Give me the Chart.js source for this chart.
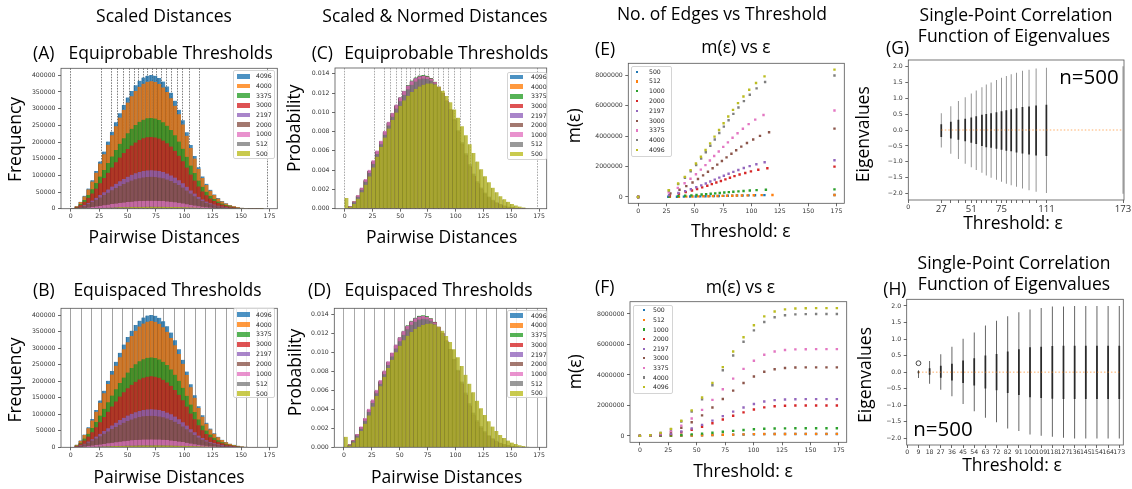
<!DOCTYPE html>
<html>
<head>
<meta charset="utf-8">
<title>Pairwise distances, edges and eigenvalues</title>
<script src="https://cdn.jsdelivr.net/npm/chart.js@4.4.1/dist/chart.umd.min.js"></script>
<style>
  html, body { margin: 0; padding: 0; background: #fff; }
  #page { position: relative; width: 1132px; height: 489px; overflow: hidden; }
  canvas { position: absolute; }
  svg { position: absolute; left: 0; top: 0; pointer-events: none; }
  .legend { position: absolute; box-sizing: border-box; border: 0.8px solid #d4d4d4; border-radius: 2px;
            background: rgba(255,255,255,0.8); font: 6.2px 'DejaVu Sans'; color: #262626; }
  .legend span { position: absolute; white-space: nowrap; line-height: 8px; }
</style>
</head>
<body>
<div id="page">
  <canvas id="chart-a"></canvas>
  <canvas id="chart-b"></canvas>
  <canvas id="chart-c"></canvas>
  <canvas id="chart-d"></canvas>
  <canvas id="chart-e"></canvas>
  <canvas id="chart-f"></canvas>
  <canvas id="chart-g"></canvas>
  <canvas id="chart-h"></canvas>
  <div class="legend" id="legend-a"></div>
  <div class="legend" id="legend-b"></div>
  <div class="legend" id="legend-c"></div>
  <div class="legend" id="legend-d"></div>
  <div class="legend" id="legend-e"></div>
  <div class="legend" id="legend-f"></div>

  <svg width="1132" height="489" font-family="Open Sans" fill="#000">
    <g font-size="17.5" text-anchor="middle">
      <text x="164" y="21.7">Scaled Distances</text>
      <text x="435" y="21.7">Scaled &amp; Normed Distances</text>
      <text x="722" y="20">No. of Edges vs Threshold</text>
      <text x="1016" y="20.7">Single-Point Correlation</text>
      <text x="1014" y="42">Function of Eigenvalues</text>

      <text x="170.7" y="59.3">Equiprobable Thresholds</text>
      <text x="446.3" y="59.3">Equiprobable Thresholds</text>
      <text x="736" y="53.3">m(ε) vs ε</text>
      <text x="167.5" y="296">Equispaced Thresholds</text>
      <text x="438.5" y="296">Equispaced Thresholds</text>
      <text x="740.5" y="292.7">m(ε) vs ε</text>
      <text x="1014" y="269.3">Single-Point Correlation</text>
      <text x="1014" y="290">Function of Eigenvalues</text>

      <text x="164.2" y="243.3">Pairwise Distances</text>
      <text x="169" y="483.3">Pairwise Distances</text>
      <text x="441.7" y="243">Pairwise Distances</text>
      <text x="446.7" y="482.7">Pairwise Distances</text>
      <text x="740.8" y="237.3">Threshold: ε</text>
      <text x="743" y="477.3">Threshold: ε</text>
      <text x="1013" y="229.3">Threshold: ε</text>
      <text x="1012" y="470.7">Threshold: ε</text>

      <text transform="translate(21 139.5) rotate(-90)">Frequency</text>
      <text transform="translate(21 380) rotate(-90)">Frequency</text>
      <text transform="translate(300 128.3) rotate(-90)">Probability</text>
      <text transform="translate(301 372.5) rotate(-90)">Probability</text>
      <text transform="translate(580 125.8) rotate(-90)">m(ε)</text>
      <text transform="translate(580.5 371.7) rotate(-90)">m(ε)</text>
      <text transform="translate(869.4 134.2) rotate(-90)">Eigenvalues</text>
      <text transform="translate(871 375) rotate(-90)">Eigenvalues</text>
    </g>
    <g font-size="17.5">
      <text x="33" y="59.3">(A)</text>
      <text x="311.7" y="59.3">(C)</text>
      <text x="595" y="55">(E)</text>
      <text x="886" y="54.3">(G)</text>
      <text x="33" y="296">(B)</text>
      <text x="308" y="296">(D)</text>
      <text x="595" y="293.3">(F)</text>
      <text x="883.3" y="295">(H)</text>
    </g>
    <g font-size="20.5">
      <text x="1059.3" y="84.3">n=500</text>
      <text x="913.3" y="436">n=500</text>
    </g>
  </svg>
</div>

<script>
// ---- data -------------------------------------------------------------

// histogram bins (centres), shared by panels A-D
const BIN_CENTERS = [1.73, 5.2, 8.66, 12.12, 15.59, 19.05, 22.52, 25.98, 29.44, 32.91,
    36.37, 39.84, 43.3, 46.76, 50.23, 53.69, 57.16, 60.62, 64.08, 67.55,
    71.01, 74.48, 77.94, 81.4, 84.87, 88.33, 91.8, 95.26, 98.72, 102.19,
    105.65, 109.12, 112.58, 116.04, 119.51, 122.97, 126.44, 129.9, 133.36, 136.83,
    140.29, 143.76, 147.22, 150.68, 154.15, 157.61, 161.08, 164.54, 168.0, 171.47];

const HIST_SIZES = ['4096', '4000', '3375', '3000', '2197', '2000', '1000', '512', '500'];
const EDGE_SIZES = ['500', '512', '1000', '2000', '2197', '3000', '3375', '4000', '4096'];
const TAB10 = ['#1f77b4', '#ff7f0e', '#2ca02c', '#d62728', '#9467bd', '#8c564b', '#e377c2', '#7f7f7f', '#bcbd22'];

// frequencies of pairwise distances per bin
const FREQ_4096 = [900, 7900, 20800, 38700, 60600, 85500, 113200, 141900, 171500, 201400, 231000, 259200, 286400, 311000, 333700, 353300, 370200, 383500, 393100, 399000, 400900, 398400, 392000, 381500, 366600, 347500, 324000, 296600, 265100, 229600, 190900, 157700, 124500, 96800, 74700, 56700, 42900, 31800, 23000, 16000, 11100, 7500, 4700, 2800, 1700, 800, 400, 200, 100, 0];
const FREQ_4000 = [900, 7500, 19800, 36900, 57800, 81500, 108000, 135300, 163600, 192100, 220300, 247200, 273100, 296600, 318200, 336900, 353100, 365700, 374900, 380500, 382300, 380000, 373900, 363800, 349600, 331400, 309000, 282900, 252800, 219000, 182100, 150400, 118700, 92300, 71200, 54100, 40900, 30300, 21900, 15300, 10600, 7200, 4500, 2700, 1600, 800, 400, 200, 100, 0];
const FREQ_3375 = [600, 5400, 14100, 26300, 41100, 58100, 76900, 96300, 116400, 136700, 156800, 176000, 194400, 211100, 226600, 239900, 251300, 260400, 266900, 270900, 272200, 270500, 266100, 259000, 248900, 235900, 220000, 201400, 180000, 155900, 129600, 107100, 84500, 65700, 50700, 38500, 29100, 21600, 15600, 10900, 7500, 5100, 3200, 1900, 1200, 500, 300, 100, 100, 0];
const FREQ_3000 = [500, 4200, 11200, 20800, 32500, 45900, 60700, 76100, 92000, 108000, 123900, 139000, 153600, 166800, 179000, 189500, 198600, 205700, 210900, 214000, 215000, 213700, 210300, 204600, 196600, 186400, 173800, 159100, 142200, 123200, 102400, 84600, 66800, 51900, 40100, 30400, 23000, 17100, 12300, 8600, 6000, 4000, 2500, 1500, 900, 400, 200, 100, 100, 0];
const FREQ_2197 = [300, 2300, 6000, 11100, 17400, 24600, 32600, 40800, 49300, 57900, 66400, 74600, 82400, 89400, 96000, 101600, 106500, 110300, 113100, 114800, 115300, 114600, 112700, 109700, 105400, 99900, 93200, 85300, 76200, 66000, 54900, 45400, 35800, 27800, 21500, 16300, 12300, 9200, 6600, 4600, 3200, 2200, 1400, 800, 500, 200, 100, 100, 0, 0];
const FREQ_2000 = [200, 1900, 5000, 9200, 14500, 20400, 27000, 33800, 40900, 48000, 55100, 61800, 68300, 74100, 79600, 84200, 88300, 91400, 93700, 95100, 95600, 95000, 93500, 91000, 87400, 82800, 77200, 70700, 63200, 54700, 45500, 37600, 29700, 23100, 17800, 13500, 10200, 7600, 5500, 3800, 2700, 1800, 1100, 700, 400, 200, 100, 0, 0, 0];
const FREQ_1000 = [50, 470, 1240, 2300, 3610, 5090, 6740, 8450, 10210, 12000, 13760, 15440, 17060, 18520, 19880, 21040, 22050, 22840, 23410, 23760, 23880, 23730, 23350, 22720, 21830, 20700, 19300, 17670, 15790, 13680, 11370, 9390, 7420, 5770, 4450, 3380, 2560, 1890, 1370, 950, 660, 450, 280, 170, 100, 50, 20, 10, 0, 0];
const FREQ_512 = [10, 120, 320, 600, 950, 1330, 1770, 2210, 2680, 3140, 3600, 4040, 4470, 4850, 5210, 5510, 5780, 5980, 6130, 6220, 6250, 6210, 6120, 5950, 5720, 5420, 5050, 4630, 4140, 3580, 2980, 2460, 1940, 1510, 1170, 880, 670, 500, 360, 250, 170, 120, 70, 40, 30, 10, 0, 0, 0, 0];
const FREQ_500 = [475, 73, 216, 441, 735, 1072, 1448, 1850, 2334, 2766, 3189, 3595, 3976, 4313, 4607, 4857, 5065, 5229, 5367, 5475, 5553, 5609, 5618, 5574, 5466, 5294, 5056, 4775, 4451, 4084, 3695, 3293, 2887, 2493, 2117, 1772, 1461, 1184, 942, 735, 562, 419, 307, 216, 147, 95, 56, 30, 13, 0];

// normalised histograms (probability density per bin)
const DENS_4096 = [0.00003, 0.00027, 0.00072, 0.00133, 0.00209, 0.00294, 0.00390, 0.00489, 0.00590, 0.00693, 0.00795, 0.00892, 0.00986, 0.01071, 0.01149, 0.01216, 0.01274, 0.01320, 0.01353, 0.01373, 0.01380, 0.01371, 0.01350, 0.01313, 0.01262, 0.01196, 0.01115, 0.01021, 0.00912, 0.00790, 0.00657, 0.00543, 0.00429, 0.00333, 0.00257, 0.00195, 0.00148, 0.00110, 0.00079, 0.00055, 0.00038, 0.00026, 0.00016, 0.00010, 0.00006, 0.00003, 0.00001, 0, 0, 0];
const DENS_4000 = [0.00003, 0.00027, 0.00071, 0.00133, 0.00210, 0.00295, 0.00390, 0.00488, 0.00591, 0.00693, 0.00794, 0.00893, 0.00985, 0.01072, 0.01148, 0.01217, 0.01273, 0.01321, 0.01352, 0.01374, 0.01379, 0.01372, 0.01349, 0.01314, 0.01261, 0.01197, 0.01114, 0.01022, 0.00911, 0.00791, 0.00656, 0.00544, 0.00428, 0.00334, 0.00256, 0.00196, 0.00147, 0.00111, 0.00078, 0.00056, 0.00037, 0.00026, 0.00016, 0.00010, 0.00006, 0.00003, 0.00001, 0, 0, 0];
const DENS_3375 = [0.00003, 0.00027, 0.00072, 0.00134, 0.00210, 0.00296, 0.00392, 0.00492, 0.00594, 0.00697, 0.00799, 0.00897, 0.00991, 0.01077, 0.01156, 0.01224, 0.01283, 0.01329, 0.01362, 0.01382, 0.01388, 0.01379, 0.01356, 0.01318, 0.01265, 0.01198, 0.01116, 0.01021, 0.00911, 0.00789, 0.00656, 0.00542, 0.00428, 0.00333, 0.00256, 0.00195, 0.00147, 0.00110, 0.00079, 0.00055, 0.00038, 0.00026, 0.00016, 0.00010, 0.00006, 0.00003, 0.00001, 0, 0, 0];
const DENS_3000 = [0.00004, 0.00029, 0.00074, 0.00135, 0.00210, 0.00294, 0.00388, 0.00486, 0.00586, 0.00688, 0.00789, 0.00886, 0.00979, 0.01064, 0.01142, 0.01209, 0.01267, 0.01313, 0.01347, 0.01367, 0.01375, 0.01368, 0.01349, 0.01314, 0.01265, 0.01201, 0.01122, 0.01029, 0.00922, 0.00801, 0.00668, 0.00553, 0.00438, 0.00341, 0.00264, 0.00201, 0.00153, 0.00114, 0.00082, 0.00058, 0.00040, 0.00027, 0.00017, 0.00011, 0.00006, 0.00003, 0.00001, 0, 0, 0];
const DENS_2197 = [0.00003, 0.00027, 0.00072, 0.00133, 0.00209, 0.00295, 0.00391, 0.00490, 0.00591, 0.00694, 0.00796, 0.00893, 0.00987, 0.01072, 0.01150, 0.01217, 0.01275, 0.01320, 0.01354, 0.01373, 0.01379, 0.01370, 0.01349, 0.01312, 0.01261, 0.01195, 0.01115, 0.01021, 0.00913, 0.00790, 0.00657, 0.00543, 0.00429, 0.00333, 0.00257, 0.00195, 0.00148, 0.00110, 0.00079, 0.00055, 0.00038, 0.00026, 0.00016, 0.00010, 0.00006, 0.00003, 0.00001, 0, 0, 0];
const DENS_2000 = [0.00004, 0.00029, 0.00075, 0.00136, 0.00211, 0.00295, 0.00389, 0.00486, 0.00586, 0.00687, 0.00788, 0.00885, 0.00978, 0.01063, 0.01141, 0.01208, 0.01266, 0.01312, 0.01346, 0.01366, 0.01374, 0.01368, 0.01349, 0.01315, 0.01266, 0.01202, 0.01123, 0.01030, 0.00923, 0.00802, 0.00669, 0.00554, 0.00439, 0.00342, 0.00265, 0.00202, 0.00153, 0.00115, 0.00083, 0.00058, 0.00040, 0.00027, 0.00017, 0.00011, 0.00006, 0.00003, 0.00001, 0, 0, 0];
const DENS_1000 = [0.00003, 0.00028, 0.00075, 0.00140, 0.00219, 0.00307, 0.00404, 0.00503, 0.00604, 0.00706, 0.00807, 0.00903, 0.00996, 0.01080, 0.01156, 0.01222, 0.01278, 0.01322, 0.01354, 0.01372, 0.01378, 0.01369, 0.01348, 0.01311, 0.01260, 0.01195, 0.01114, 0.01020, 0.00911, 0.00789, 0.00656, 0.00542, 0.00428, 0.00333, 0.00257, 0.00195, 0.00148, 0.00110, 0.00079, 0.00055, 0.00038, 0.00026, 0.00016, 0.00010, 0.00006, 0.00003, 0.00001, 0, 0, 0];
const DENS_512 = [0.00003, 0.00024, 0.00066, 0.00124, 0.00196, 0.00279, 0.00370, 0.00466, 0.00567, 0.00668, 0.00768, 0.00864, 0.00955, 0.01039, 0.01115, 0.01182, 0.01240, 0.01286, 0.01320, 0.01342, 0.01351, 0.01346, 0.01329, 0.01298, 0.01252, 0.01191, 0.01117, 0.01030, 0.00929, 0.00815, 0.00690, 0.00575, 0.00462, 0.00365, 0.00285, 0.00220, 0.00168, 0.00127, 0.00094, 0.00068, 0.00049, 0.00034, 0.00023, 0.00015, 0.00009, 0.00005, 0.00002, 0.00001, 0, 0];
const DENS_500 = [0.00110, 0.00017, 0.00050, 0.00102, 0.00170, 0.00248, 0.00335, 0.00428, 0.00540, 0.00640, 0.00738, 0.00832, 0.00920, 0.00998, 0.01066, 0.01124, 0.01172, 0.01210, 0.01242, 0.01267, 0.01285, 0.01298, 0.01300, 0.01290, 0.01265, 0.01225, 0.01170, 0.01105, 0.01030, 0.00945, 0.00855, 0.00762, 0.00668, 0.00577, 0.00490, 0.00410, 0.00338, 0.00274, 0.00218, 0.00170, 0.00130, 0.00097, 0.00071, 0.00050, 0.00034, 0.00022, 0.00013, 0.00007, 0.00003, 0];

// thresholds
const EQPROB_THRESHOLDS = [0, 27, 35.6, 41.5, 46.5, 51.3, 55.7, 59.7, 63.7, 67.5, 71.6, 75.7, 80, 84.1, 88.8, 93.6, 98.7, 104.5, 113.2, 173.2];
const EQSPACED_THRESHOLDS = [0, 9.12, 18.23, 27.35, 36.46, 45.58, 54.69, 63.81, 72.93, 82.04, 91.16, 100.27, 109.39, 118.51, 127.62, 136.74, 145.85, 154.97, 164.08, 173.2];
const EQPROB_500 = [0, 26.6, 34.3, 40.4, 45.9, 50.8, 54.8, 59.4, 62.9, 66.8, 71.1, 75.2, 79.1, 83.0, 87.3, 92.1, 97.4, 103.1, 111.4, 173.2];
const EQPROB_512 = [0, 28, 36, 42.5, 48, 53, 57.5, 62, 66, 70, 74.5, 78.5, 83, 87, 91.5, 96.5, 102, 109, 118.5, 173.2];
const EQPROB_1000 = [0, 27.5, 35.5, 41.5, 47, 51.5, 56, 60, 64, 68, 72, 76, 80, 84, 88.5, 93, 98.5, 104.5, 112.7, 173.2];
const EQPROB_2000 = [0, 28, 36, 42, 47.5, 52, 56.5, 61, 65, 69, 73, 77, 81, 85, 89.5, 94.5, 99.5, 106, 114, 173.2];
const EQPROB_2197 = [0, 27.3, 35.5, 41.5, 46.5, 51.3, 55.7, 59.7, 63.7, 67.6, 71.6, 75.6, 79.8, 84, 88.4, 93.2, 98.4, 104.3, 111.6, 173.2];
const EQPROB_3000 = [0, 28.5, 36.5, 42.5, 48, 52.8, 57.3, 61.6, 65.7, 69.8, 73.9, 78, 82.3, 86.5, 91, 96, 101.5, 107.5, 115.5, 173.2];
const EQPROB_3375 = [0, 27, 35, 41, 46.2, 51, 55.3, 59.4, 63.3, 67.1, 71.1, 75.1, 79.2, 83.3, 87.7, 92.4, 97.5, 103.3, 110.6, 173.2];
const EQPROB_4000 = [0, 27.2, 35.3, 41.3, 46.4, 51.2, 55.6, 59.7, 63.7, 67.6, 71.6, 75.6, 79.8, 84.0, 88.5, 93.3, 98.5, 104.5, 112, 173.2];
const EQPROB_4096 = [0, 27, 35.3, 41.2, 46.3, 51, 55.4, 59.5, 63.5, 67.4, 71.4, 75.4, 79.5, 83.7, 88.1, 92.9, 98, 104, 111.5, 173.2];

// number of edges m(eps) at equiprobable thresholds
const EDGES_EQ_500 = [0, 6600, 13100, 19700, 26300, 32800, 39400, 46000, 52500, 59100, 65700, 72200, 78800, 85400, 91900, 98500, 105100, 111600, 118200, 124750];
const EDGES_EQ_512 = [0, 6900, 13800, 20700, 27500, 34400, 41300, 48200, 55100, 62000, 68900, 75700, 82600, 89500, 96400, 103300, 110200, 117000, 123900, 130816];
const EDGES_EQ_1000 = [0, 26300, 52600, 78900, 105200, 131400, 157700, 184000, 210300, 236600, 262900, 289200, 315500, 341800, 368100, 394300, 420600, 446900, 473200, 499500];
const EDGES_EQ_2000 = [0, 105200, 210400, 315600, 420800, 526100, 631300, 736500, 841700, 946900, 1052100, 1157300, 1262500, 1367700, 1472900, 1578200, 1683400, 1788600, 1893800, 1999000];
const EDGES_EQ_2197 = [0, 127000, 253900, 380900, 507900, 634800, 761800, 888700, 1015700, 1142700, 1269600, 1396600, 1523600, 1650500, 1777500, 1904500, 2031400, 2158400, 2285300, 2412306];
const EDGES_EQ_3000 = [0, 236800, 473500, 710300, 947100, 1183800, 1420600, 1657300, 1894100, 2130900, 2367600, 2604400, 2841200, 3077900, 3314700, 3551400, 3788200, 4025000, 4261700, 4498500];
const EDGES_EQ_3375 = [0, 299700, 599300, 899000, 1198700, 1498300, 1798000, 2097700, 2397300, 2697000, 2996600, 3296300, 3596000, 3895600, 4195300, 4495000, 4794600, 5094300, 5394000, 5693625];
const EDGES_EQ_4000 = [0, 420900, 841900, 1262800, 1683800, 2104700, 2525700, 2946600, 3367600, 3788500, 4209500, 4630400, 5051400, 5472300, 5893300, 6314200, 6735200, 7156100, 7577100, 7998000];
const EDGES_EQ_4096 = [0, 441400, 882800, 1324200, 1765600, 2207000, 2648400, 3089800, 3531200, 3972600, 4414000, 4855400, 5296800, 5738200, 6179600, 6621000, 7062400, 7503800, 7945200, 8386560];

// number of edges m(eps) at equispaced thresholds
const EDGES_SP_500 = [0, 750, 3000, 6900, 14700, 25000, 37400, 51800, 67100, 82300, 96300, 108000, 116600, 121400, 123500, 124400, 124600, 124750, 124750, 124750];
const EDGES_SP_512 = [0, 800, 3100, 7200, 15400, 26200, 39200, 54300, 70400, 86300, 101000, 113300, 122300, 127300, 129500, 130400, 130700, 130816, 130816, 130816];
const EDGES_SP_1000 = [0, 3000, 12000, 27000, 59000, 100000, 150000, 207000, 269000, 330000, 386000, 433000, 467000, 486000, 495000, 498000, 499000, 499500, 499500, 499500];
const EDGES_SP_2000 = [0, 12000, 48000, 110000, 236000, 400000, 600000, 830000, 1075000, 1319000, 1543000, 1731000, 1869000, 1945000, 1979000, 1993000, 1997000, 1999000, 1999000, 1999000];
const EDGES_SP_2197 = [0, 14000, 58000, 133000, 285000, 482000, 724000, 1001000, 1298000, 1592000, 1862000, 2089000, 2255000, 2347000, 2388000, 2405000, 2410000, 2412000, 2412000, 2412000];
const EDGES_SP_3000 = [0, 27000, 108000, 247000, 530000, 900000, 1349000, 1866000, 2420000, 2968000, 3472000, 3895000, 4206000, 4377000, 4453000, 4485000, 4494000, 4498000, 4498000, 4498000];
const EDGES_SP_3375 = [0, 34000, 137000, 313000, 672000, 1139000, 1708000, 2363000, 3063000, 3758000, 4396000, 4931000, 5324000, 5540000, 5637000, 5677000, 5688000, 5693000, 5693000, 5693000];
const EDGES_SP_4000 = [0, 48000, 192000, 440000, 944000, 1600000, 2399000, 3319000, 4303000, 5279000, 6174000, 6926000, 7478000, 7782000, 7918000, 7974000, 7990000, 7998000, 7998000, 7998000];
const EDGES_SP_4096 = [0, 50000, 201000, 461000, 990000, 1677000, 2516000, 3480000, 4512000, 5535000, 6474000, 7263000, 7841000, 8160000, 8303000, 8361000, 8378000, 8386000, 8386000, 8386000];

// eigenvalue spread for n=500 (whiskers, quartile boxes, medians)
const EIG_EQ_WHISK_LO = [0, -0.55, -0.75, -0.91, -1.06, -1.17, -1.26, -1.34, -1.43, -1.50, -1.56, -1.63, -1.69, -1.74, -1.78, -1.84, -1.89, -1.94, -1.98, -2.0];
const EIG_EQ_WHISK_HI = [0, 0.53, 0.75, 0.91, 1.03, 1.15, 1.24, 1.34, 1.43, 1.49, 1.57, 1.64, 1.70, 1.75, 1.80, 1.86, 1.89, 1.93, 1.96, 2.0];
const EIG_EQ_BOX_LO = [0, -0.22, -0.27, -0.31, -0.35, -0.40, -0.44, -0.50, -0.54, -0.56, -0.59, -0.62, -0.65, -0.67, -0.71, -0.74, -0.77, -0.80, -0.82, 0];
const EIG_EQ_BOX_HI = [0, 0.18, 0.26, 0.32, 0.35, 0.39, 0.43, 0.48, 0.50, 0.53, 0.56, 0.59, 0.62, 0.65, 0.68, 0.72, 0.74, 0.77, 0.79, 0];
const EIG_EQ_MEDIAN = [0, 0, 0, 0, 0, 0, 0, 0, 0, 0, 0, 0, 0, 0, 0, 0, 0, 0, 0, 0];

const EIG_SP_WHISK_LO = [0, -0.18, -0.35, -0.53, -0.73, -0.96, -1.18, -1.38, -1.51, -1.70, -1.78, -1.88, -1.92, -1.95, -1.98, -2.0, -2.0, -2.0, -2.0, -2.0];
const EIG_SP_WHISK_HI = [0, 0.06, 0.34, 0.54, 0.77, 1.01, 1.20, 1.41, 1.55, 1.69, 1.81, 1.89, 1.94, 1.98, 1.98, 2.0, 2.0, 2.0, 2.0, 2.0];
const EIG_SP_BOX_LO = [0, -0.03, -0.08, -0.17, -0.25, -0.33, -0.40, -0.49, -0.55, -0.63, -0.69, -0.76, -0.78, -0.80, -0.81, -0.81, -0.81, -0.81, -0.81, -0.81];
const EIG_SP_BOX_HI = [0, 0.03, 0.12, 0.19, 0.25, 0.35, 0.42, 0.50, 0.55, 0.62, 0.69, 0.75, 0.77, 0.79, 0.80, 0.80, 0.80, 0.80, 0.80, 0.80];
const EIG_SP_MEDIAN = [0, 0, 0, 0, 0, 0, 0, 0, 0, 0, 0, 0, 0, 0, 0, 0, 0, 0, 0, 0];
const EIG_SP_OUTLIER = [{x: 9.12, y: 0.27}];

// tick labels
const DIST_TICKS = [0, 25, 50, 75, 100, 125, 150, 175];
const FREQ_TICKS = [0, 50000, 100000, 150000, 200000, 250000, 300000, 350000, 400000];
const DENS_TICKS = [0, 0.002, 0.004, 0.006, 0.008, 0.010, 0.012, 0.014];
const EDGE_TICKS = [0, 2000000, 4000000, 6000000, 8000000];
const EIG_TICKS = [-2, -1.5, -1, -0.5, 0, 0.5, 1, 1.5, 2];
const EQPROB_500_LABELS = ['0', '27', '', '', '', '51', '', '', '', '', '', '75', '', '', '', '', '', '', '111', '173'];
const EQSPACED_LABELS = ['0', '9', '18', '27', '36', '45', '54', '63', '72', '82', '91', '100', '109', '118', '127', '136', '145', '154', '164', '173'];

// ---- drawing ----------------------------------------------------------

const TICK_FONT = {family: 'DejaVu Sans', size: 6.2};
const TICK_COLOR = '#333';
const AXIS_COLOR = '#444';

function rgba(hex, a, shade) {
    var k = shade || 1;
    var r = Math.round(parseInt(hex.slice(1, 3), 16) * k);
    var g = Math.round(parseInt(hex.slice(3, 5), 16) * k);
    var b = Math.round(parseInt(hex.slice(5, 7), 16) * k);
    return 'rgba(' + r + ',' + g + ',' + b + ',' + a + ')';
}

// plot frame like matplotlib spines
const framePlugin = {
    id: 'frame',
    afterDraw(chart) {
        var a = chart.chartArea;
        var ctx = chart.ctx;
        ctx.save();
        ctx.strokeStyle = '#555';
        ctx.lineWidth = 0.8;
        ctx.strokeRect(a.left, a.top, a.right - a.left, a.bottom - a.top);
        ctx.restore();
    }
};

// size the canvas so that the chart area lands on `plot`
function placeCanvas(id, plot, below) {
    var cv = document.getElementById(id);
    var left = Math.floor(plot.l - 40);
    var top = Math.floor(plot.t - 8);
    var right = Math.ceil(plot.l + plot.w + 12);
    var bottom = Math.ceil(plot.t + plot.h + below);
    cv.width = right - left;
    cv.height = bottom - top;
    cv.style.left = left + 'px';
    cv.style.top = top + 'px';
    cv.style.width = (right - left) + 'px';
    cv.style.height = (bottom - top) + 'px';
    return {
        el: cv,
        yw: plot.l - left,
        pt: plot.t - top,
        pr: right - (plot.l + plot.w),
        xh: bottom - (plot.t + plot.h)
    };
}

function xAxis(min, max, ticks, xh, labels, font) {
    return {
        type: 'linear', position: 'bottom', min: min, max: max, bounds: 'data', offset: false,
        afterBuildTicks: s => { s.ticks = ticks.map(v => ({value: v})); },
        afterFit: s => { s.height = xh; },
        ticks: {
            font: font || TICK_FONT, color: TICK_COLOR, padding: 1, maxRotation: 0, autoSkip: false,
            callback: (v, i) => labels ? labels[i] : String(v)
        },
        grid: {drawOnChartArea: false, color: AXIS_COLOR, tickLength: 3, lineWidth: 0.8, offset: false},
        border: {display: false}
    };
}

function yAxis(min, max, ticks, yw, fmt) {
    return {
        type: 'linear', min: min, max: max, bounds: 'data',
        afterBuildTicks: s => { s.ticks = ticks.map(v => ({value: v})); },
        afterFit: s => { s.width = yw; },
        ticks: {font: TICK_FONT, color: TICK_COLOR, padding: 2.5, autoSkip: false, callback: fmt},
        grid: {drawOnChartArea: false, color: AXIS_COLOR, tickLength: 3, lineWidth: 0.8},
        border: {display: false}
    };
}

// threshold lines drawn as grid lines of a hidden axis, above the bars
function thresholdAxis(values, min, max, color, dash) {
    return {
        type: 'linear', position: 'bottom', min: min, max: max, bounds: 'data', z: 1, offset: false,
        afterBuildTicks: s => { s.ticks = values.map(v => ({value: v})); },
        afterFit: s => { s.height = 0; },
        ticks: {display: false},
        grid: {color: color, lineWidth: 0.8, drawTicks: false, offset: false},
        border: {display: false, dash: dash}
    };
}

function histChart(id, plot, series, yMax, yTicks, yFmt, thresholds, lineColor, lineDash) {
    var g = placeCanvas(id, plot, 14);
    var datasets = series.map((vals, i) => ({
        label: HIST_SIZES[i],
        data: vals.map((v, k) => ({x: BIN_CENTERS[k], y: v})),
        backgroundColor: rgba(TAB10[i], 0.8, 0.93),
        borderColor: rgba(TAB10[i], 0.8, 0.75),
        borderWidth: {left: 0.8, right: 0, top: 0, bottom: 0},
        barPercentage: 1,
        categoryPercentage: 1,
        grouped: false,
        order: series.length - i
    }));
    new Chart(g.el, {
        type: 'bar',
        data: {datasets: datasets},
        options: {
            responsive: false, animation: false, events: [],
            layout: {padding: {top: g.pt, right: g.pr, left: 0, bottom: 0}},
            plugins: {legend: {display: false}, tooltip: {enabled: false}},
            scales: {
                x: xAxis(-8.66, 181.86, DIST_TICKS, g.xh),
                xThr: thresholdAxis(thresholds, -8.66, 181.86, lineColor, lineDash),
                y: yAxis(0, yMax, yTicks, g.yw, yFmt)
            }
        },
        plugins: [framePlugin]
    });
}

function edgeChart(id, plot, xsList, ysList) {
    var g = placeCanvas(id, plot, 14);
    var datasets = ysList.map((ys, i) => ({
        label: EDGE_SIZES[i],
        data: ys.map((y, k) => ({x: xsList[i][k], y: y})),
        backgroundColor: TAB10[i],
        pointStyle: 'rect',
        pointRadius: 1.7,
        pointBorderWidth: 0,
        order: ysList.length - i
    }));
    new Chart(g.el, {
        type: 'scatter',
        data: {datasets: datasets},
        options: {
            responsive: false, animation: false, events: [],
            layout: {padding: {top: g.pt, right: g.pr, left: 0, bottom: 0}},
            plugins: {legend: {display: false}, tooltip: {enabled: false}},
            scales: {
                x: xAxis(-8.66, 181.86, DIST_TICKS, g.xh),
                y: yAxis(-420000, 8806000, EDGE_TICKS, g.yw, v => String(v))
            }
        },
        plugins: [framePlugin]
    });
}

function eigenChart(id, plot, xMin, xMax, thr, labels, labelFont, lo, hi, boxLo, boxHi, med, outliers, whiskColor) {
    var g = placeCanvas(id, plot, 16);
    var datasets = [
        {
            type: 'bar',
            data: thr.map((t, i) => ({x: t, y: [lo[i], hi[i]]})),
            backgroundColor: whiskColor, barThickness: 0.9, inflateAmount: 0, grouped: false, order: 4
        },
        {
            type: 'bar',
            data: thr.map((t, i) => ({x: t, y: [boxLo[i], boxHi[i]]})),
            backgroundColor: '#2a2a2a', barThickness: 1.7, inflateAmount: 0, grouped: false, order: 3
        },
        {
            type: 'line',
            data: thr.slice(1).map((t, i) => ({x: t, y: med[i + 1]})),
            borderColor: 'rgba(255,127,14,0.7)', borderWidth: 0.9, borderDash: [1.5, 2],
            pointRadius: 0, order: 2
        }
    ];
    if (outliers) {
        datasets.push({
            type: 'scatter',
            data: outliers,
            pointStyle: 'circle', pointRadius: 2.4, borderColor: '#333',
            backgroundColor: 'rgba(0,0,0,0)', pointBorderWidth: 0.9, order: 1
        });
    }
    new Chart(g.el, {
        type: 'bar',
        data: {datasets: datasets},
        options: {
            responsive: false, animation: false, events: [],
            layout: {padding: {top: g.pt, right: g.pr, left: 0, bottom: 0}},
            plugins: {legend: {display: false}, tooltip: {enabled: false}},
            scales: {
                x: xAxis(xMin, xMax, thr, g.xh, labels, labelFont),
                y: yAxis(-2.2, 2.2, EIG_TICKS, g.yw, v => v.toFixed(1).replace('-', '\u2212'))
            }
        },
        plugins: [framePlugin]
    });
}

function buildLegend(id, box, names, colors, kind) {
    var el = document.getElementById(id);
    el.style.left = box.l + 'px';
    el.style.top = box.t + 'px';
    el.style.width = box.w + 'px';
    el.style.height = box.h + 'px';
    for (let i = 0; i < names.length; i++) {
        var cy = box.first + box.step * i - box.t - 1;
        var mark = document.createElement('span');
        if (kind === 'patch') {
            mark.style.cssText = 'left:' + (box.mx - box.l) + 'px;top:' + (cy - 2.3) + 'px;width:13px;height:4.6px;background:' + rgba(colors[i], 0.8);
        } else {
            mark.style.cssText = 'left:' + (box.mx - box.l - 1.1) + 'px;top:' + (cy - 1.1) + 'px;width:2.2px;height:2.2px;background:' + colors[i];
        }
        var label = document.createElement('span');
        label.textContent = names[i];
        label.style.left = (box.tx - box.l) + 'px';
        label.style.top = (cy - 4) + 'px';
        el.appendChild(mark);
        el.appendChild(label);
    }
}

const freqSeries = [FREQ_4096, FREQ_4000, FREQ_3375, FREQ_3000, FREQ_2197, FREQ_2000, FREQ_1000, FREQ_512, FREQ_500];
const densSeries = [DENS_4096, DENS_4000, DENS_3375, DENS_3000, DENS_2197, DENS_2000, DENS_1000, DENS_512, DENS_500];
const eqThresholds = [EQPROB_500, EQPROB_512, EQPROB_1000, EQPROB_2000, EQPROB_2197, EQPROB_3000, EQPROB_3375, EQPROB_4000, EQPROB_4096];
const edgesEq = [EDGES_EQ_500, EDGES_EQ_512, EDGES_EQ_1000, EDGES_EQ_2000, EDGES_EQ_2197, EDGES_EQ_3000, EDGES_EQ_3375, EDGES_EQ_4000, EDGES_EQ_4096];
const edgesSp = [EDGES_SP_500, EDGES_SP_512, EDGES_SP_1000, EDGES_SP_2000, EDGES_SP_2197, EDGES_SP_3000, EDGES_SP_3375, EDGES_SP_4000, EDGES_SP_4096];
const spThresholds = edgesSp.map(() => EQSPACED_THRESHOLDS);

const intFmt = v => String(v);
const densFmt = v => v.toFixed(3);

histChart('chart-a', {l: 61, t: 68.3, w: 216.3, h: 140.4}, freqSeries, 421000, FREQ_TICKS, intFmt,
    EQPROB_THRESHOLDS, 'rgba(40,40,40,0.75)', [1.6, 1.2]);
histChart('chart-b', {l: 61, t: 308.3, w: 216.3, h: 139}, freqSeries, 421000, FREQ_TICKS, intFmt,
    EQSPACED_THRESHOLDS, 'rgba(60,60,60,0.6)', []);
histChart('chart-c', {l: 335, t: 68, w: 211.7, h: 140.7}, densSeries, 0.0146, DENS_TICKS, densFmt,
    EQPROB_THRESHOLDS, 'rgba(60,60,60,0.55)', [1.6, 1.2]);
histChart('chart-d', {l: 334.3, t: 308.3, w: 212.4, h: 139}, densSeries, 0.0146, DENS_TICKS, densFmt,
    EQSPACED_THRESHOLDS, 'rgba(60,60,60,0.55)', []);

edgeChart('chart-e', {l: 628.3, t: 63.3, w: 216, h: 140}, eqThresholds, edgesEq);
edgeChart('chart-f', {l: 630, t: 301.7, w: 216.7, h: 140.6}, spThresholds, edgesSp);

eigenChart('chart-g', {l: 908.3, t: 60, w: 215.7, h: 140}, 0, 174, EQPROB_500, EQPROB_500_LABELS,
    c => c.index === 0 ? TICK_FONT : {family: 'Open Sans', size: 9.6},
    EIG_EQ_WHISK_LO, EIG_EQ_WHISK_HI, EIG_EQ_BOX_LO, EIG_EQ_BOX_HI, EIG_EQ_MEDIAN, null, '#8a8a8a');
eigenChart('chart-h', {l: 906.7, t: 299.3, w: 216.6, h: 145.7}, -0.5, 176.5, EQSPACED_THRESHOLDS, EQSPACED_LABELS,
    TICK_FONT, EIG_SP_WHISK_LO, EIG_SP_WHISK_HI, EIG_SP_BOX_LO, EIG_SP_BOX_HI, EIG_SP_MEDIAN, EIG_SP_OUTLIER, '#555');

buildLegend('legend-a', {l: 233.3, t: 70, w: 41.7, h: 89.3, first: 76.3, step: 9.67, mx: 236, tx: 255}, HIST_SIZES, TAB10, 'patch');
buildLegend('legend-b', {l: 233.3, t: 308.3, w: 41.7, h: 90, first: 314.7, step: 9.875, mx: 236, tx: 255}, HIST_SIZES, TAB10, 'patch');
buildLegend('legend-c', {l: 506.7, t: 71.7, w: 40, h: 88.3, first: 77, step: 9.63, mx: 509.3, tx: 530}, HIST_SIZES, TAB10, 'patch');
buildLegend('legend-d', {l: 506.7, t: 310, w: 40, h: 88.3, first: 315.7, step: 9.7, mx: 509.3, tx: 530}, HIST_SIZES, TAB10, 'patch');
buildLegend('legend-e', {l: 630.7, t: 66, w: 41, h: 90.7, first: 71.7, step: 9.79, mx: 636, tx: 648}, EDGE_SIZES, TAB10, 'dot');
buildLegend('legend-f', {l: 633.3, t: 305, w: 40, h: 89, first: 310.3, step: 9.6, mx: 642.7, tx: 652}, EDGE_SIZES, TAB10, 'dot');
</script>
</body>
</html>
